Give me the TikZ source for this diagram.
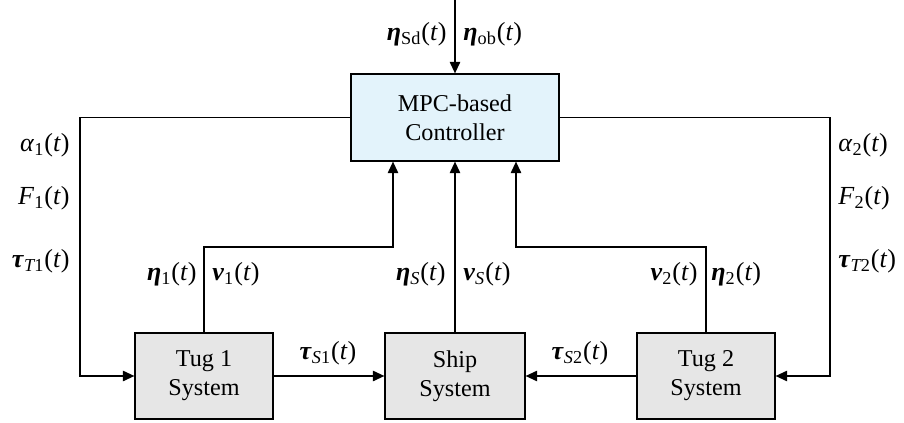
\documentclass[tikz,border=0pt]{standalone}
\usepackage{amsmath}
\usepackage{fontspec}
\setmainfont{Liberation Serif}
\usepackage{tikz}
\usetikzlibrary{positioning,arrows.meta}
\usepackage{xcolor}
\definecolor{ctrlblue}{HTML}{E3F3FB}
\definecolor{sysgray}{HTML}{E6E6E6}

% bold italic symbol, italic symbol, subscript
\newcommand{\bsym}[1]{\textbf{\textit{#1}}}
\newcommand{\isym}[1]{\textit{#1}}
\newcommand{\subs}[1]{$_{\text{#1}}$}
\newcommand{\oft}{(\textit{t})}

\tikzset{
  blk/.style={draw,semithick,align=center,font=\fontsize{11.6}{14}\selectfont},
  arr/.style={semithick,-{Triangle[length=5.5pt,width=5pt]}},
  lbl/.style={inner sep=0pt,font=\fontsize{12.5}{14}\selectfont}
}

\begin{document}
\begin{tikzpicture}[x=0.48pt,y=-0.48pt]
\useasboundingbox (0,0) rectangle (904,423);
% blocks
\node[blk,fill=ctrlblue,minimum width=208*0.48pt,minimum height=87*0.48pt] (ctrl) at (455,117.5) {MPC-based\\Controller};
\node[blk,fill=sysgray,minimum width=138*0.48pt,minimum height=86*0.48pt] (tug1) at (204,376) {Tug 1\\System};
\node[blk,fill=sysgray,minimum width=140*0.48pt,minimum height=86*0.48pt] (ship) at (455,376) {Ship\\System};
\node[blk,fill=sysgray,minimum width=138*0.48pt,minimum height=86*0.48pt] (tug2) at (706,376) {Tug 2\\System};

% corners of the loops
\coordinate (in) at (455,0);
\coordinate (lc) at (80,117.5);
\coordinate (rc) at (830,117.5);
\coordinate (fb1) at (393,247);
\coordinate (fbS) at (455,247);
\coordinate (fb2) at (516,247);

\draw[arr] (in) -- (ctrl.north);
\draw[arr] (ctrl.west) -- (lc) |- (tug1.west);
\draw[arr] (ctrl.east) -- (rc) |- (tug2.east);
\draw[arr] (tug1.north) |- (fb1) -- (fb1 |- ctrl.south);
\draw[arr] (ship.north) -- (fbS) -- (fbS |- ctrl.south);
\draw[arr] (tug2.north) |- (fb2) -- (fb2 |- ctrl.south);
\draw[arr] (tug1.east) -- (ship.west);
\draw[arr] (tug2.west) -- (ship.east);

% signal labels
\node[lbl,anchor=east] (eSd) at (447,34) {\bsym{η}\subs{Sd}\oft};
\node[lbl,anchor=west] (eob) at (463,34) {\bsym{η}\subs{ob}\oft};
\node[lbl,anchor=east] (a1) at (70,145) {\isym{α}\subs{1}\oft};
\node[lbl,anchor=east] (f1) at (70,198) {\isym{F}\subs{1}\oft};
\node[lbl,anchor=east] (tT1) at (70,261) {\bsym{τ}\subs{\itshape T\upshape 1}\oft};
\node[lbl,anchor=west] (a2) at (838,145) {\isym{α}\subs{2}\oft};
\node[lbl,anchor=west] (f2) at (838,198) {\isym{F}\subs{2}\oft};
\node[lbl,anchor=west] (tT2) at (838,261) {\bsym{τ}\subs{\itshape T\upshape 2}\oft};
\node[lbl,anchor=east] (e1) at (197,274) {\bsym{η}\subs{1}\oft};
\node[lbl,anchor=west] (v1) at (212,274) {\bsym{v}\subs{1}\oft};
\node[lbl,anchor=east] (eS) at (446,274) {\bsym{η}\subs{\itshape S}\oft};
\node[lbl,anchor=west] (vS) at (463,274) {\bsym{v}\subs{\itshape S}\oft};
\node[lbl,anchor=east] (v2) at (698,274) {\bsym{v}\subs{2}\oft};
\node[lbl,anchor=west] (e2) at (711,274) {\bsym{η}\subs{2}\oft};
\node[lbl] (tS1) at (328,353) {\bsym{τ}\subs{\itshape S\upshape 1}\oft};
\node[lbl] (tS2) at (580,353) {\bsym{τ}\subs{\itshape S\upshape 2}\oft};
\end{tikzpicture}
\end{document}
